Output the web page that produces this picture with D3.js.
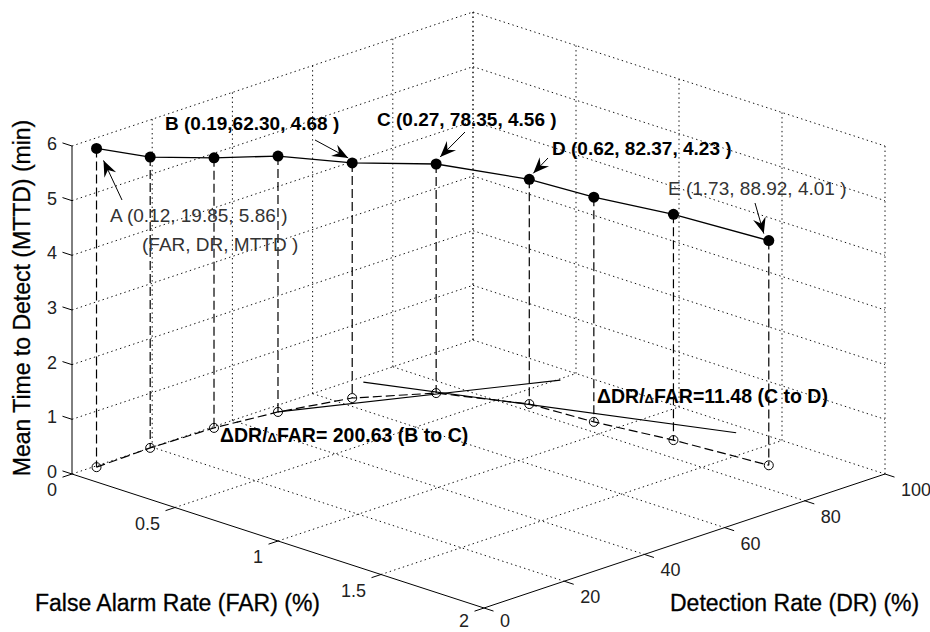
<!DOCTYPE html>
<html>
<head>
<meta charset="utf-8">
<script src="https://cdn.jsdelivr.net/npm/d3@7"></script>
<style>
  body { margin: 0; background: #fff; }
  svg { font-family: "Liberation Sans", Arial, sans-serif; }
  .tick-label { font-size: 18px; fill: #222; }
  .axis-title { font-size: 23px; fill: #000; stroke: #000; stroke-width: 0.3; }
  .note { font-size: 19px; fill: #333; }
  .note-bold { font-size: 19px; font-weight: bold; fill: #000; }
</style>
</head>
<body>
<div id="chart"></div>
<script>
// DATA
const far  = [0.01, 0.00, 0.01, 0.05, 0.13, 0.30, 0.61, 0.90, 1.23, 1.65];
const dr   = [5.6, 19.5, 34.9, 48.8, 63.2, 75.4, 82.7, 83.9, 86.8, 89.0];
const mttd = [5.83, 5.32, 4.94, 4.68, 4.30, 4.19, 4.11, 4.11, 4.13, 4.11];

// tangent lines drawn on the floor (FAR, DR) start -> end
const tangentBC = [[0.05, 48.8], [0.51, 95.6]];
const tangentCD = [[0.04, 70.6], [1.33, 97.3]];

const farTicks = [0, 0.5, 1, 1.5, 2];
const drTicks = [0, 20, 40, 60, 80, 100];
const zTicks = [0, 1, 2, 3, 4, 5, 6];

const pointNotes = [
  {i: 0, text: "A (0.12, 19.85, 5.86 )", bold: false},
  {i: 4, text: "B (0.19,62.30, 4.68 )", bold: true},
  {i: 5, text: "C (0.27, 78.35, 4.56 )", bold: true},
  {i: 6, text: "D (0.62, 82.37, 4.23 )", bold: true},
  {i: 9, text: "E (1.73, 88.92, 4.01 )", bold: false}
];

const width = 930, height = 632;

const svg = d3.select("#chart")
    .append("svg")
    .attr("width", width)
    .attr("height", height);

// SCALES - each axis maps onto a screen vector (fixed MATLAB-like view)
const origin = {x: 72, y: 474};
const farVec = {x: 412, y: 134};
const drVec = {x: 401, y: -134};

const farScale = d3.scaleLinear().domain([0, 2]).range([0, 1]);
const drScale = d3.scaleLinear().domain([0, 100]).range([0, 1]);
const zScale = d3.scaleLinear().domain([0, 6]).range([0, 328]);

function proj(f, d, z) {
    const a = farScale(f), b = drScale(d);
    return [origin.x + a * farVec.x + b * drVec.x,
            origin.y + a * farVec.y + b * drVec.y - zScale(z)];
}

const farLen = Math.hypot(farVec.x, farVec.y);
const drLen = Math.hypot(drVec.x, drVec.y);
const farUnit = [farVec.x / farLen, farVec.y / farLen];
const drUnit = [drVec.x / drLen, drVec.y / drLen];

const line = d3.line();

// GRID (dotted, back walls + floor)
const grid = [];
farTicks.forEach(function(f) {
    if (f < 2) grid.push([proj(f, 0, 0), proj(f, 100, 0)]);      // floor
    grid.push([proj(f, 100, 0), proj(f, 100, 6)]);                // right wall verticals
});
drTicks.forEach(function(d) {
    if (d > 0) {
        grid.push([proj(0, d, 0), proj(2, d, 0)]);                // floor
        grid.push([proj(0, d, 0), proj(0, d, 6)]);                // left wall verticals
    }
});
zTicks.forEach(function(z) {
    if (z > 0) {
        grid.push([proj(0, 0, z), proj(0, 100, z)]);              // left wall
        grid.push([proj(0, 100, z), proj(2, 100, z)]);            // right wall
    }
});

svg.append("g")
    .selectAll("path")
    .data(grid)
    .enter()
    .append("path")
        .attr("d", line)
        .attr("fill", "none")
        .attr("stroke", "#111")
        .attr("stroke-width", 1)
        .attr("stroke-dasharray", "1.4,3.2");

// AXES
const axes = [
    [proj(0, 0, 0), proj(0, 0, 6)],
    [proj(0, 0, 0), proj(2, 0, 0)],
    [proj(2, 0, 0), proj(2, 100, 0)]
];
svg.append("g")
    .selectAll("path")
    .data(axes)
    .enter()
    .append("path")
        .attr("d", line)
        .attr("stroke", "#000")
        .attr("stroke-width", 1);

const tickLen = 10;
const axisG = svg.append("g");

farTicks.forEach(function(f) {
    const p = proj(f, 0, 0);
    axisG.append("path")
        .attr("d", line([p, [p[0] - drUnit[0] * tickLen, p[1] - drUnit[1] * tickLen]]))
        .attr("stroke", "#000");
    axisG.append("text")
        .attr("class", "tick-label")
        .attr("x", p[0] - 15)
        .attr("y", Math.min(p[1] + 22, 627))
        .attr("text-anchor", "end")
        .text(f);
});

drTicks.forEach(function(d) {
    const p = proj(2, d, 0);
    axisG.append("path")
        .attr("d", line([p, [p[0] + farUnit[0] * tickLen, p[1] + farUnit[1] * tickLen]]))
        .attr("stroke", "#000");
    axisG.append("text")
        .attr("class", "tick-label")
        .attr("x", p[0] + 16)
        .attr("y", Math.min(p[1] + 22, 627))
        .attr("text-anchor", "start")
        .text(d);
});

zTicks.forEach(function(z) {
    const p = proj(0, 0, z);
    axisG.append("path")
        .attr("d", line([p, [p[0] - farUnit[0] * tickLen, p[1] - farUnit[1] * tickLen]]))
        .attr("stroke", "#000");
    axisG.append("text")
        .attr("class", "tick-label")
        .attr("x", p[0] - 15)
        .attr("y", p[1] + 4)
        .attr("text-anchor", "end")
        .text(z);
});

// AXIS TITLES
svg.append("text")
    .attr("class", "axis-title")
    .attr("transform", "translate(30,298) rotate(-90)")
    .attr("text-anchor", "middle")
    .text("Mean Time to Detect (MTTD) (min)");

svg.append("text")
    .attr("class", "axis-title")
    .attr("x", 35)
    .attr("y", 611)
    .text("False Alarm Rate (FAR) (%)");

svg.append("text")
    .attr("class", "axis-title")
    .attr("x", 670)
    .attr("y", 611)
    .text("Detection Rate (DR) (%)");

// MARKS
const pts = far.map(function(f, i) { return {top: proj(f, dr[i], mttd[i]), floor: proj(f, dr[i], 0)}; });

// tangent lines on the floor
svg.append("g")
    .selectAll("path")
    .data([tangentBC, tangentCD])
    .enter()
    .append("path")
        .attr("d", function(t) { return line(t.map(function(q) { return proj(q[0], q[1], 0); })); })
        .attr("stroke", "#000")
        .attr("stroke-width", 1.2);

// drop lines
svg.append("g")
    .selectAll("path")
    .data(pts)
    .enter()
    .append("path")
        .attr("d", function(d) { return line([d.top, d.floor]); })
        .attr("stroke", "#000")
        .attr("stroke-width", 1.2)
        .attr("stroke-dasharray", "9,4");

// floor projection
svg.append("path")
    .attr("d", line(pts.map(function(d) { return d.floor; })))
    .attr("fill", "none")
    .attr("stroke", "#000")
    .attr("stroke-width", 1.2)
    .attr("stroke-dasharray", "9,4");

svg.append("g")
    .selectAll("circle")
    .data(pts)
    .enter()
    .append("circle")
        .attr("cx", function(d) { return d.floor[0]; })
        .attr("cy", function(d) { return d.floor[1]; })
        .attr("r", 4.5)
        .attr("fill", "none")
        .attr("stroke", "#000")
        .attr("stroke-width", 1);

// 3D curve
svg.append("path")
    .attr("d", line(pts.map(function(d) { return d.top; })))
    .attr("fill", "none")
    .attr("stroke", "#000")
    .attr("stroke-width", 1.3);

svg.append("g")
    .selectAll("circle")
    .data(pts)
    .enter()
    .append("circle")
        .attr("cx", function(d) { return d.top[0]; })
        .attr("cy", function(d) { return d.top[1]; })
        .attr("r", 5.5)
        .attr("fill", "#000");

// ANNOTATIONS
const noteLayout = [
    {x: 110, y: 222, tail: [122, 200], off: [7, 12]},
    {x: 165, y: 130, tail: [315, 140], off: [-4, -5]},
    {x: 377, y: 126, tail: [465, 132], off: [4, -7]},
    {x: 552, y: 155, tail: [548, 158], off: [4, -6]},
    {x: 668, y: 195, tail: [755, 203], off: [-5, -7]}
];

function arrowHead(tail, tip) {
    const dx = tip[0] - tail[0], dy = tip[1] - tail[1];
    const L = Math.hypot(dx, dy);
    const u = [dx / L, dy / L], n = [-u[1], u[0]];
    const hl = 16, hw = 6.5;
    const b1 = [tip[0] - u[0] * hl + n[0] * hw, tip[1] - u[1] * hl + n[1] * hw];
    const b2 = [tip[0] - u[0] * hl - n[0] * hw, tip[1] - u[1] * hl - n[1] * hw];
    const notch = [tip[0] - u[0] * hl * 0.65, tip[1] - u[1] * hl * 0.65];
    return line([tip, b1, notch, b2]) + "Z";
}

const noteG = svg.append("g");
pointNotes.forEach(function(n, k) {
    const lay = noteLayout[k];
    const p = pts[n.i].top;
    const tip = [p[0] + lay.off[0], p[1] + lay.off[1]];
    noteG.append("path")
        .attr("d", line([lay.tail, tip]))
        .attr("stroke", "#000")
        .attr("stroke-width", 1);
    noteG.append("path")
        .attr("d", arrowHead(lay.tail, tip))
        .attr("fill", "#000");
    noteG.append("text")
        .attr("class", n.bold ? "note-bold" : "note")
        .attr("x", lay.x)
        .attr("y", lay.y)
        .text(n.text);
});

noteG.append("text")
    .attr("class", "note")
    .attr("x", 142)
    .attr("y", 251)
    .text("(FAR, DR, MTTD )");

const slopeNotes = [
    {x: 220, y: 442, value: "= 200.63 (B to C)"},
    {x: 597, y: 403, value: "=11.48 (C to D)"}
];
slopeNotes.forEach(function(s) {
    const t = noteG.append("text")
        .attr("class", "note-bold")
        .style("font-size", "19.5px")
        .attr("x", s.x)
        .attr("y", s.y);
    t.append("tspan").text("\u0394DR/");
    t.append("tspan").style("font-size", "13px").text("\u0394");
    t.append("tspan").text("FAR" + s.value);
});
</script>
</body>
</html>
